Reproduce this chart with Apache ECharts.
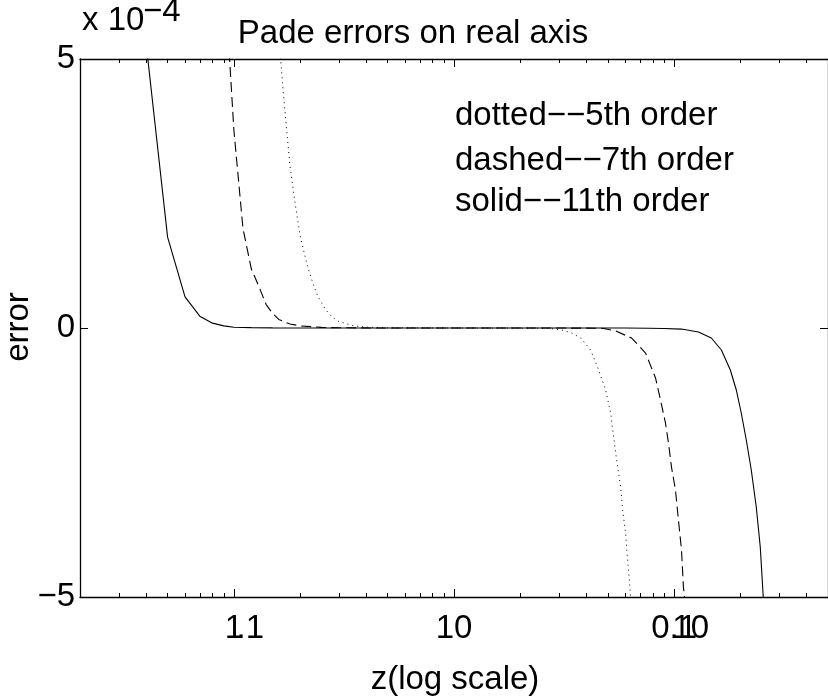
<!DOCTYPE html>
<html><head><meta charset="utf-8">
<script src="https://cdn.jsdelivr.net/npm/echarts@6/dist/echarts.min.js"></script>
<style>html,body{margin:0;padding:0;background:#fff}#c{width:828px;height:696px}</style>
</head><body><div id="c"></div>
<script>
// error values in units of 1e-4
const xSolid = [0.4, 0.5, 0.6, 0.7, 0.8, 0.9, 1.0, 1.2, 1.5, 2, 3, 5, 10, 20, 40, 60, 76.5, 90, 108, 128.9, 147.6, 163.9, 180, 191.6, 201.8, 212.7, 224.1, 236.1, 246.2, 254, 258];
const ySolid = [5.26, 1.69, 0.58, 0.22, 0.09, 0.04, 0.015, 0.007, 0.003, 0.001, 0, 0, 0, 0, 0, -0.001, -0.004, -0.008, -0.02, -0.074, -0.186, -0.409, -0.781, -1.152, -1.58, -2.082, -2.639, -3.327, -4.071, -5.0, -5.5];
const xDashed = [0.9, 1.0, 1.1, 1.2, 1.3, 1.4, 1.5, 1.6, 1.7, 1.8, 2.0, 2.5, 3, 5, 10, 20, 40, 47.85, 54.23, 64.09, 74.17, 82.32, 86.73, 91.35, 94.26, 97.26, 101.4, 104.6, 108, 110.2, 111.4, 113];
const yDashed = [6.8, 3.68, 1.85, 1.1, 0.77, 0.44, 0.27, 0.16, 0.11, 0.075, 0.04, 0.012, 0.004, 0, 0, 0, -0.002, -0.008, -0.056, -0.186, -0.465, -0.929, -1.338, -1.766, -2.138, -2.584, -3.011, -3.569, -4.126, -4.814, -5.0, -5.5];
const xDotted = [1.6, 1.7, 1.8, 1.9, 2.0, 2.1, 2.2, 2.3, 2.4, 2.6, 2.8, 3.0, 3.5, 4, 5, 10, 20, 26.95, 30.87, 34.26, 37.64, 41.77, 45.41, 48.85, 51.47, 53.11, 54.8, 57.14, 58.35, 60.2, 61.46, 62.76, 63.42, 64.5];
const yDotted = [5.4, 4.1, 3.0, 2.3, 1.72, 1.35, 1.04, 0.8, 0.6, 0.35, 0.2, 0.12, 0.04, 0.015, 0.003, 0, -0.002, -0.005, -0.037, -0.093, -0.186, -0.409, -0.781, -1.152, -1.58, -2.026, -2.454, -2.955, -3.383, -3.81, -4.312, -4.74, -5.0, -5.5];

const xMajorTicks = [1, 10, 100];
const xMinorTicks = [0.2,0.3,0.4,0.5,0.6,0.7,0.8,0.9,2,3,4,5,6,7,8,9,20,30,40,50,60,70,80,90,200,300,400,500];
const xLabelsA = ['1', '10', '0.1'];   // first label layer at 1, 10, 100
const xLabelsB = ['.1', '', '10'];     // overlapping second layer at 1, 10, 100
const yTicks = [-5, 0, 5];
const yTickLabels = ['\u22125', '0', '5'];

const titleText = 'Pade errors on real axis';
const legendTexts = ['dotted\u2212\u22125th order', 'dashed\u2212\u22127th order', 'solid\u2212\u221211th order'];

const FONT = '"Liberation Sans", Arial, Helvetica, sans-serif';
const FS = 33;

function zip(xs, ys) { return xs.map((x, i) => [x, ys[i]]); }
function decadeIdx(v) { return Math.round(Math.log10(v)); }

const chart = echarts.init(document.getElementById('c'));
const commonX = { type: 'log', logBase: 10, min: 0.2, max: 500, splitLine: { show: false }, splitArea: { show: false } };
const option = {
  animation: false,
  backgroundColor: '#fff',
  grid: { left: 80, right: -2, top: 59, bottom: 99, containLabel: false },
  xAxis: [
    Object.assign({}, commonX, {
      position: 'bottom',
      axisLine: { show: true, onZero: false, lineStyle: { color: '#000', width: 1.3 } },
      axisTick: { show: true, inside: true, length: 8, customValues: xMajorTicks, lineStyle: { color: '#000', width: 1 } },
      axisLabel: { show: true, margin: 15, customValues: xMajorTicks, color: '#000', fontSize: FS, fontFamily: FONT,
        formatter: v => xLabelsA[decadeIdx(v)] || '' }
    }),
    Object.assign({}, commonX, {
      position: 'bottom',
      axisLine: { show: false, onZero: false },
      axisTick: { show: true, inside: true, length: 4, customValues: xMinorTicks, lineStyle: { color: '#000', width: 1 } },
      axisLabel: { show: true, margin: 15, customValues: [1, 100], color: '#000', fontSize: FS, fontFamily: FONT,
        formatter: v => { const s = xLabelsB[decadeIdx(v)]; return s ? '{r|' + s + '}' : ''; },
        rich: { r: { fontSize: FS, fontFamily: FONT, color: '#000', padding: [0, 0, 0, 33] } } }
    }),
    Object.assign({}, commonX, {
      position: 'top',
      axisLine: { show: true, onZero: false, lineStyle: { color: '#000', width: 1.3 } },
      axisTick: { show: true, inside: true, length: 8, customValues: xMajorTicks, lineStyle: { color: '#000', width: 1 } },
      axisLabel: { show: false }
    }),
    Object.assign({}, commonX, {
      position: 'top',
      axisLine: { show: false, onZero: false },
      axisTick: { show: true, inside: true, length: 4, customValues: xMinorTicks, lineStyle: { color: '#000', width: 1 } },
      axisLabel: { show: false }
    })
  ],
  yAxis: [
    {
      type: 'value', min: -5, max: 5, interval: 5, position: 'left',
      splitLine: { show: false },
      axisLine: { show: true, onZero: false, lineStyle: { color: '#000', width: 1.3 } },
      axisTick: { show: true, inside: true, length: 8, lineStyle: { color: '#000', width: 1 } },
      axisLabel: { show: true, margin: 5, color: '#000', fontSize: FS, fontFamily: FONT,
        formatter: v => { const i = yTicks.indexOf(v); return i >= 0 ? yTickLabels[i] : ''; } }
    },
    {
      type: 'value', min: -5, max: 5, interval: 5, position: 'right',
      splitLine: { show: false },
      axisLine: { show: true, onZero: false, lineStyle: { color: '#000', width: 1.3 } },
      axisTick: { show: true, inside: true, length: 8, lineStyle: { color: '#000', width: 1 } },
      axisLabel: { show: false }
    }
  ],
  series: [
    { name: 'dotted--5th order', type: 'line', xAxisIndex: 0, yAxisIndex: 0, data: zip(xDotted, yDotted), showSymbol: false, symbol: 'none', clip: true,
      lineStyle: { color: '#000', width: 1, type: [1, 4] } },
    { name: 'dashed--7th order', type: 'line', xAxisIndex: 0, yAxisIndex: 0, data: zip(xDashed, yDashed), showSymbol: false, symbol: 'none', clip: true,
      lineStyle: { color: '#000', width: 1.1, type: [10, 5] } },
    { name: 'solid--11th order', type: 'line', xAxisIndex: 0, yAxisIndex: 0, data: zip(xSolid, ySolid), showSymbol: false, symbol: 'none', clip: true,
      lineStyle: { color: '#000', width: 1.1, type: 'solid' } }
  ],
  graphic: [
    { type: 'text', x: 413, y: 34, style: { text: titleText, fill: '#000', font: FS + 'px ' + FONT, textAlign: 'center', textVerticalAlign: 'middle' } },
    { type: 'text', x: 82, y: 21, style: { text: 'x 10', fill: '#000', font: FS + 'px ' + FONT, textAlign: 'left', textVerticalAlign: 'middle' } },
    { type: 'text', x: 143, y: 12, style: { text: '\u22124', fill: '#000', font: FS + 'px ' + FONT, textAlign: 'left', textVerticalAlign: 'middle' } },
    { type: 'text', x: 455, y: 116, style: { text: legendTexts[0], fill: '#000', font: FS + 'px ' + FONT, textAlign: 'left', textVerticalAlign: 'middle' } },
    { type: 'text', x: 455, y: 161, style: { text: legendTexts[1], fill: '#000', font: FS + 'px ' + FONT, textAlign: 'left', textVerticalAlign: 'middle' } },
    { type: 'text', x: 455, y: 202, style: { text: legendTexts[2], fill: '#000', font: FS + 'px ' + FONT, textAlign: 'left', textVerticalAlign: 'middle' } },
    { type: 'text', x: 19, y: 327, rotation: Math.PI / 2, style: { text: 'error', fill: '#000', font: FS + 'px ' + FONT, textAlign: 'center', textVerticalAlign: 'middle' } },
    { type: 'text', x: 455, y: 680, style: { text: 'z(log scale)', fill: '#000', font: FS + 'px ' + FONT, textAlign: 'center', textVerticalAlign: 'middle' } }
  ]
};
chart.setOption(option);
</script>
</body></html>
